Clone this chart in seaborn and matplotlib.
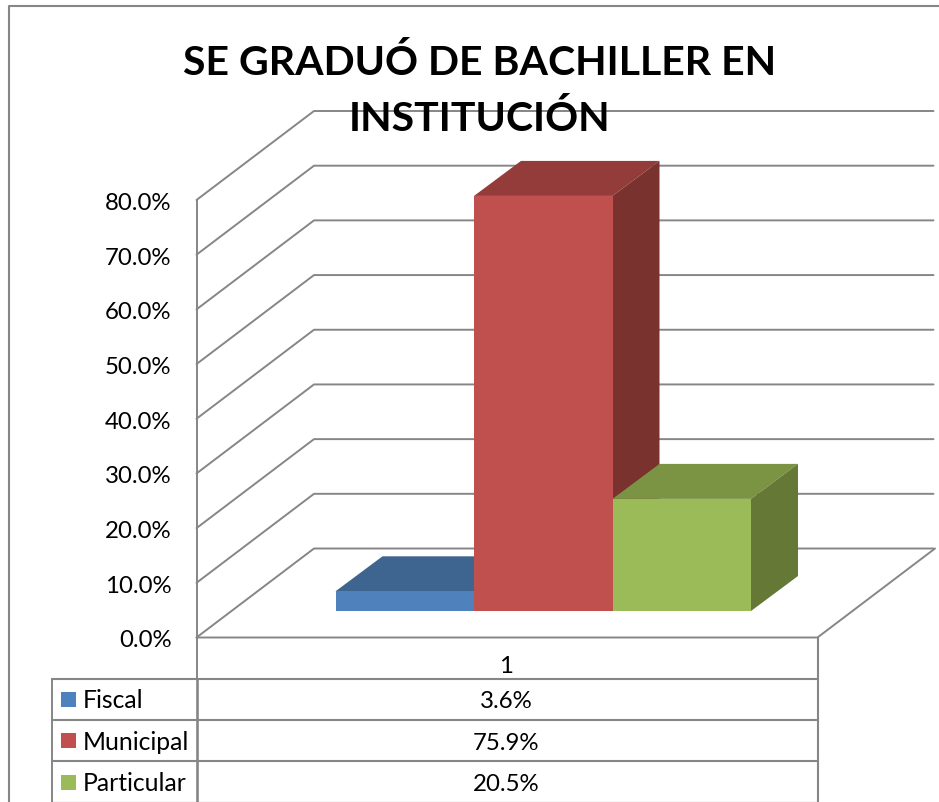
import matplotlib
matplotlib.use("Agg")
import matplotlib.pyplot as plt
import pandas as pd
import seaborn as sns
from matplotlib.lines import Line2D
from matplotlib.patches import Polygon, Rectangle
from matplotlib.transforms import Affine2D, ScaledTranslation

W, H = 939, 803

categories = ["Fiscal", "Municipal", "Particular"]
values = [3.6, 75.9, 20.5]
column_label = "1"
yticks = [0, 10, 20, 30, 40, 50, 60, 70, 80]
title = "SE GRADUÓ DE BACHILLER EN\nINSTITUCIÓN"

front_colors = ["#4F81BD", "#C0504D", "#9BBB59"]
top_colors = ["#3E6490", "#943C39", "#7A9444"]
side_colors = ["#375A82", "#7A322F", "#667836"]
GREY = "#868686"
TXT = 17.3
LW = 1.4

sns.set_style("white")
plt.rcParams["font.family"] = ["Lato", "DejaVu Sans"]

fig = plt.figure(figsize=(W / 100, H / 100), dpi=100, facecolor="white")
# image pixels, origin top left, for the frame and the table
px = Affine2D().translate(-0.5, 1).scale(1 / W, -1 / H).translate(0, 1) + fig.transFigure


def pline(xs, ys, lw=LW, color=GREY, zorder=1):
    fig.add_artist(Line2D(xs, ys, transform=px, color=color, lw=lw, zorder=zorder))


# front wall of the chart: 197..818 px wide, 0% at 637.5 and 80% at 200
ax = fig.add_axes([196.5 / W, 1 - 638.5 / H, 621 / W, 437.5 / H])
ax.patch.set_alpha(0)

bar_w = 138.5  # px per category
xleft = -0.5 - (336 - 197) / bar_w
xright = xleft + 621 / bar_w
pct = 437.5 / 80  # px per percent
floor = (637.5 - 611) / pct  # bars stand part way into the floor

df = pd.DataFrame({"cat": categories, "val": values})
sns.barplot(data=df, x="cat", y="val", hue="cat", palette=front_colors, width=1,
            dodge=False, legend=False, bottom=floor, saturation=1, ax=ax, linewidth=0)
ax.set_xlim(xleft, xright)
ax.set_ylim(0, 80)
ax.set_xlabel("")
ax.set_ylabel("")
ax.set_xticks([])
ax.set_yticks(yticks)
ax.set_yticklabels(["%.1f%%" % t for t in yticks])
ax.tick_params(axis="y", length=0, pad=18, labelsize=TXT, labelcolor="black")
down = ScaledTranslation(0, -2.5 / 100, fig.dpi_scale_trans)
for lab in ax.get_yticklabels():
    lab.set_verticalalignment("center")
    lab.set_transform(lab.get_transform() + down)
for side in ["top", "right", "bottom"]:
    ax.spines[side].set_visible(False)
ax.spines["left"].set_color(GREY)
ax.spines["left"].set_linewidth(LW)

# depth of the walls and of the bars, in data units
wall_dx, wall_dy = 117.5 / bar_w, 89 / pct
bar_dx, bar_dy = 47 / bar_w, 35 / pct

# wall grid
for t in yticks:
    ax.plot([xleft, xleft + wall_dx, xright + wall_dx - 1.5 / bar_w],
            [t, t + wall_dy, t + wall_dy],
            color=GREY, lw=LW, clip_on=False, zorder=1)
# floor
ax.plot([xleft, xright, xright + wall_dx], [0, 0, wall_dy],
        color=GREY, lw=LW, clip_on=False, zorder=1)

# top and side of each bar come from the drawn bars
bars = sorted(ax.patches, key=lambda b: b.get_x())
for i, bar in enumerate(bars):
    x0, x1 = bar.get_x(), bar.get_x() + bar.get_width()
    y0, y1 = bar.get_y(), bar.get_y() + bar.get_height()
    z = 3 + i
    ax.add_patch(Polygon([(x0, y1), (x1, y1), (x1 + bar_dx, y1 + bar_dy), (x0 + bar_dx, y1 + bar_dy)],
                         facecolor=top_colors[i], edgecolor="none", clip_on=False, zorder=z))
    ax.add_patch(Polygon([(x1, y0), (x1, y1), (x1 + bar_dx, y1 + bar_dy), (x1 + bar_dx, y0 + bar_dy)],
                         facecolor=side_colors[i], edgecolor="none", clip_on=False, zorder=z))
    bar.set_zorder(z + 0.5)
    bar.set_clip_on(False)

# outer frame
pline([9, 9, W + 1], [H, 6, 6], lw=1.5)

# data table under the chart
rows_y = [679, 720, 761]
for y in rows_y:
    pline([52, 818], [y, y], lw=1.5)
pline([52, 818], [801.5, 801.5], lw=1.0, color="#C8C8C8")
pline([52, 52], [679, H], lw=LW)
pline([197, 197], [637.5, 679], lw=LW)
pline([197, 197], [679, H], lw=1.9)
pline([818, 818], [638, H], lw=1.5)

label_y = [700, 742, 783]
key_y = [691.5, 733, 774.5]
for i, cat in enumerate(categories):
    fig.add_artist(Rectangle((61, key_y[i]), 15, 15, transform=px, facecolor=front_colors[i], edgecolor="none"))
    fig.text(83, label_y[i], cat, transform=px, ha="left", va="center", fontsize=17.8, color="black")
    fig.text(507, label_y[i] + 1, "%.1f%%" % values[i], transform=px, ha="center", va="center",
             fontsize=TXT, color="black")
fig.text(507, 666, column_label, transform=px, ha="center", va="center", fontsize=TXT, color="black")

fig.text(480, 90, title, transform=px, ha="center", va="center", fontsize=29.5, fontweight="bold",
         color="black", linespacing=1.6, zorder=10)

fig.savefig("out.png", dpi=100, facecolor="white")
